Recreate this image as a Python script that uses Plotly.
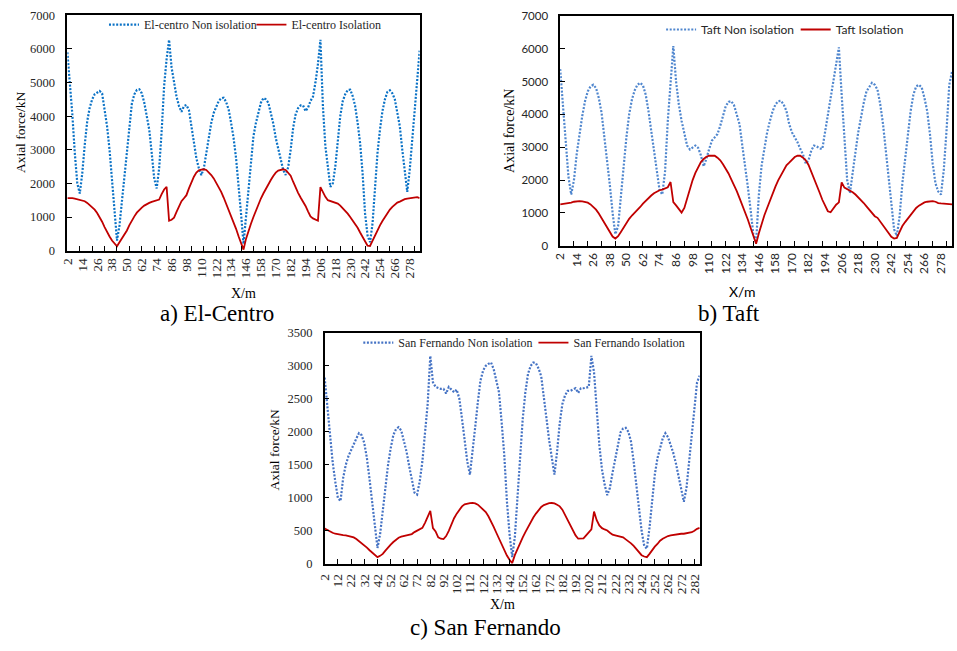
import plotly.graph_objects as go

# ---------------- data ----------------
# Position along the structure (m): categories 2, 4, ..., 286
X = list(range(2, 288, 2))

# a) El-Centro
ELC_NON = [5900, 5000, 4050, 2900, 2000, 1700, 2300, 3150, 3850, 4250,
           4500, 4650, 4700, 4750, 4680, 4250, 3700, 3000, 2100, 1150,
           300, 750, 1500, 2350, 3100, 3750, 4380, 4650, 4780, 4800,
           4680, 4400, 4050, 3600, 2900, 2150, 1850, 2450, 3550, 4900,
           5700, 6270, 5450, 5000, 4580, 4300, 4130, 4300, 4330, 4180,
           3700, 3100, 2750, 2450, 2250, 2450, 2900, 3400, 3800, 4100,
           4300, 4450, 4530, 4550, 4420, 4200, 3800, 3350, 2750, 2000,
           1100, 200, 1000, 1850, 2750, 3400, 3800, 4150, 4400, 4540,
           4500, 4400, 4100, 3780, 3350, 3000, 2700, 2400, 2250, 2480,
           3000, 3650, 4050, 4240, 4320, 4320, 4150, 4250, 4450, 4580,
           5000, 5550, 6270, 4300, 3100, 2400, 1900, 2000, 2500, 3250,
           4000, 4450, 4650, 4780, 4790, 4600, 4300, 3800, 3200, 2300,
           1100, 450, 250, 800, 2000, 2900, 3600, 4150, 4500, 4720,
           4770, 4680, 4500, 4150, 3700, 3000, 2300, 1750, 2400, 3300,
           4350, 5300, 5950]
ELC_ISO = [1560, 1570, 1560, 1550, 1530, 1520, 1500, 1470, 1420, 1360,
           1300, 1220, 1120, 1000, 860, 700, 550, 420, 300, 200,
           130, 250, 360, 480, 600, 760, 900, 1020, 1130, 1220,
           1280, 1340, 1390, 1420, 1450, 1470, 1480, 1520, 1680, 1820,
           1900, 890, 920, 980, 1150, 1320, 1470, 1560, 1650, 1850,
           2050, 2200, 2320, 2390, 2410, 2420, 2400, 2330, 2250, 2150,
           2030, 1910, 1750, 1580, 1400, 1200, 1000, 830, 650, 430,
           200, 30, 350, 600, 800, 1000, 1200, 1370, 1550, 1700,
           1850, 1980, 2100, 2220, 2320, 2380, 2410, 2420, 2400, 2320,
           2230, 2050, 1870, 1720, 1580, 1460, 1330, 1170, 1020, 960,
           920, 890, 1890, 1730, 1600, 1500, 1480, 1460, 1440, 1400,
           1340, 1270, 1200, 1100, 1000, 900, 800, 680, 540, 400,
           270, 150, 140, 300, 450, 600, 750, 880, 1000, 1120,
           1220, 1300, 1370, 1430, 1460, 1500, 1530, 1550, 1560, 1570,
           1580, 1590, 1560]

# b) Taft
TAFT_NON = [5380, 4300, 3100, 2100, 1560, 2000, 2800, 3400, 3950, 4400,
            4700, 4850, 4900, 4800, 4500, 4050, 3350, 2700, 1850, 1000,
            350, 600, 1400, 2400, 3300, 4000, 4450, 4730, 4900, 4960,
            4880, 4600, 4100, 3500, 2900, 2250, 1700, 1560, 2250, 3800,
            5100, 6080, 5000, 4300, 3800, 3400, 3050, 2930, 3000, 3050,
            2980, 2750, 2420, 2650, 2950, 3200, 3300, 3400, 3650, 3950,
            4250, 4380, 4400, 4280, 4000, 3700, 3050, 2500, 1800, 1100,
            350, 100, 1550, 2450, 3000, 3450, 3800, 4100, 4300, 4400,
            4410, 4300, 4100, 3700, 3450, 3320, 3150, 2950, 2780, 2500,
            2600, 2900, 3050, 3020, 2960, 2950, 3450, 4000, 4500, 5050,
            5550, 6040, 4600, 3100, 2000, 1600, 2300, 2850, 3450, 3950,
            4350, 4700, 4850, 4960, 4900, 4750, 4300, 3700, 2900, 2100,
            1300, 500, 300, 900, 1900, 2700, 3500, 4100, 4600, 4850,
            4900, 4820, 4500, 4100, 3400, 2500, 1900, 1650, 1560, 2300,
            3500, 4900, 5300]
TAFT_ISO = [1260, 1270, 1280, 1290, 1310, 1340, 1355, 1360, 1350, 1330,
            1310, 1260, 1190, 1100, 980, 840, 700, 550, 410, 280,
            220, 290, 420, 560, 700, 820, 920, 1000, 1080, 1180,
            1280, 1370, 1450, 1530, 1600, 1650, 1690, 1710, 1740, 1780,
            1940, 1330, 1230, 1100, 1010, 1150, 1450, 1720, 2000, 2220,
            2400, 2550, 2640, 2710, 2740, 2750, 2740, 2680, 2600, 2480,
            2350, 2200, 2020, 1850, 1660, 1450, 1250, 1050, 800, 550,
            300, 60, 380, 680, 930, 1150, 1380, 1600, 1800, 1990,
            2160, 2320, 2450, 2530, 2630, 2700, 2740, 2740, 2680, 2600,
            2460, 2260, 2050, 1850, 1620, 1400, 1200, 1050, 1020, 1150,
            1250, 1320, 1930, 1770, 1730, 1680, 1630, 1560, 1480, 1400,
            1300, 1200, 1100, 980, 900, 850, 740, 620, 500, 380,
            270, 220, 240, 420, 600, 720, 830, 950, 1060, 1150,
            1220, 1280, 1320, 1340, 1350, 1360, 1340, 1300, 1290, 1280,
            1270, 1260, 1260]

# c) San Fernando
SF_NON = [2820, 2400, 1950, 1550, 1250, 1000, 950, 1300, 1500, 1630,
          1720, 1820, 1900, 1980, 1950, 1830, 1600, 1280, 900, 550,
          240, 450, 820, 1200, 1500, 1750, 1950, 2040, 2070, 2020,
          1880, 1700, 1480, 1250, 1080, 1050, 1250, 1550, 2000, 2420,
          3150, 2750, 2680, 2660, 2650, 2650, 2580, 2680, 2640, 2600,
          2640, 2500, 2200, 1900, 1550, 1350, 1680, 2070, 2450, 2780,
          2930, 3000, 3030, 3050, 2950, 2750, 2600, 2150, 1650, 950,
          450, 100, 400, 1000, 1650, 2200, 2600, 2880, 3000, 3050,
          3040, 2960, 2840, 2550, 2200, 1870, 1640, 1350, 1700, 2130,
          2420, 2550, 2620, 2620, 2640, 2660, 2590, 2660, 2660, 2670,
          2680, 3150, 2900, 2350, 1800, 1430, 1200, 1040, 1150, 1380,
          1600, 1820, 1990, 2050, 2060, 2000, 1850, 1550, 1200, 850,
          500, 270, 230, 550, 1000, 1350, 1600, 1770, 1900, 1980,
          1920, 1800, 1680, 1520, 1330, 1100, 940, 1150, 1550, 2000,
          2300, 2750, 2850]
SF_ISO = [535, 510, 490, 470, 455, 445, 438, 435, 430, 422,
          415, 400, 375, 345, 315, 280, 245, 205, 165, 125,
          100, 120, 150, 200, 250, 290, 330, 370, 395, 410,
          420, 430, 435, 450, 480, 500, 520, 545, 620, 720,
          800, 540, 490, 400, 380, 375, 420, 500, 600, 690,
          760, 825, 870, 900, 915, 920, 922, 915, 895, 860,
          820, 785, 720, 650, 560, 470, 380, 290, 200, 125,
          60, 10, 130, 230, 320, 400, 480, 560, 630, 700,
          760, 815, 860, 890, 910, 918, 921, 915, 895, 870,
          820, 745, 660, 580, 500, 430, 380, 380, 385, 430,
          480, 520, 790, 660, 580, 540, 520, 505, 470, 440,
          430, 420, 412, 400, 370, 345, 310, 270, 220, 170,
          130, 110, 100, 150, 210, 260, 300, 350, 380, 405,
          420, 430, 438, 445, 450, 455, 455, 460, 468, 478,
          500, 530, 545]

# tick marks / labels
AB_TICKS = list(range(2, 283, 10))      # tick marks every 10 m
AB_LABELS = list(range(2, 279, 12))     # labels every 12 m
C_TICKS = list(range(2, 283, 10))       # ticks + labels every 10 m

NAMES = {
    "elc_non": "El-centro Non isolation", "elc_iso": "El-centro Isolation",
    "taft_non": "Taft Non isolation", "taft_iso": "Taft Isolation",
    "sf_non": "San Fernando Non isolation", "sf_iso": "San Fernando Isolation",
}

# ---------------- styling ----------------
W, H = 957, 651
def fx(p): return p / W
def fy(p): return 1 - p / H

SERIF = "Liberation Serif, Times New Roman, serif"
SANS = "Lato, Carlito, Calibri, sans-serif"
TXT = "#262626"
RED = "#C00000"
BLUE_A = "#0A72C6"
BLUE_B = "#4F86CE"
BLUE_C = "#4472C4"
DOT = "2px,1.6px"

fig = go.Figure()
fig.add_trace(go.Scatter(x=X, y=ELC_NON, xaxis="x", yaxis="y", mode="lines",
                         name=NAMES["elc_non"], legend="legend",
                         line=dict(color=BLUE_A, width=2.2, dash=DOT)))
fig.add_trace(go.Scatter(x=X, y=ELC_ISO, xaxis="x4", yaxis="y", mode="lines",
                         name=NAMES["elc_iso"], legend="legend2",
                         line=dict(color=RED, width=1.8)))
fig.add_trace(go.Scatter(x=X, y=TAFT_NON, xaxis="x2", yaxis="y2", mode="lines",
                         name=NAMES["taft_non"], legend="legend3",
                         line=dict(color=BLUE_B, width=2.2, dash=DOT)))
fig.add_trace(go.Scatter(x=X, y=TAFT_ISO, xaxis="x5", yaxis="y2", mode="lines",
                         name=NAMES["taft_iso"], legend="legend4",
                         line=dict(color=RED, width=1.8)))
fig.add_trace(go.Scatter(x=X, y=SF_NON, xaxis="x3", yaxis="y3", mode="lines",
                         name=NAMES["sf_non"], legend="legend5",
                         line=dict(color=BLUE_C, width=2.2, dash=DOT)))
fig.add_trace(go.Scatter(x=X, y=SF_ISO, xaxis="x3", yaxis="y3", mode="lines",
                         name=NAMES["sf_iso"], legend="legend6",
                         line=dict(color=RED, width=1.8)))

def frame_x(domain, anchor, tickvals, labels, font):
    d = dict(domain=domain, anchor=anchor, range=[2, 286], tickmode="array",
             tickvals=tickvals, ticks="inside", ticklen=5, tickwidth=1, tickcolor="black",
             showline=True, linecolor="black", linewidth=1.5, mirror=True,
             showgrid=False, zeroline=False, fixedrange=True)
    if labels:
        d.update(showticklabels=True, ticktext=[str(v) for v in tickvals], tickangle=-90,
                 tickfont=font, ticklabelstandoff=3)
    else:
        d.update(showticklabels=False)
    return d

def label_x(over, anchor, tickvals, font):
    return dict(overlaying=over, anchor=anchor, side="bottom", range=[2, 286],
                tickmode="array", tickvals=tickvals, ticktext=[str(v) for v in tickvals],
                tickangle=-90, ticks="", showline=False, showgrid=False, zeroline=False,
                tickfont=font, ticklabelstandoff=4, fixedrange=True)

def frame_y(domain, anchor, top, dtick, font):
    return dict(domain=domain, anchor=anchor, range=[0, top], tickmode="linear", tick0=0,
                dtick=dtick, ticks="inside", ticklen=5, tickwidth=1, tickcolor="black",
                showline=True, linecolor="black", linewidth=1.5, mirror=True,
                showgrid=False, zeroline=False, tickfont=font, ticklabelstandoff=8,
                fixedrange=True)

fA_y = dict(family=SERIF, size=12.5, color=TXT)
fA_x = dict(family=SERIF, size=13.5, color=TXT)
fB_y = dict(family=SANS, size=11.5, color=TXT)
fB_x = dict(family=SANS, size=12, color=TXT)

layout = dict(
    width=W, height=H, margin=dict(l=0, r=0, t=0, b=0),
    paper_bgcolor="white", plot_bgcolor="white", showlegend=True,
    xaxis=frame_x([fx(60), fx(416)], "y", AB_TICKS, False, fA_x),
    xaxis4=label_x("x", "y", AB_LABELS, fA_x),
    yaxis=frame_y([fy(249), fy(8.5)], "x", 7000, 1000, fA_y),
    xaxis2=frame_x([fx(558), fx(954)], "y2", AB_TICKS, False, fB_x),
    xaxis5=label_x("x2", "y2", AB_LABELS, fB_x),
    yaxis2=frame_y([fy(244), fy(9)], "x2", 7000, 1000, fB_y),
    xaxis3=frame_x([fx(320), fx(699)], "y3", C_TICKS, True, fA_x),
    yaxis3=frame_y([fy(569), fy(333)], "x3", 3500, 500, fA_y),
)

def leg(text_x, yc, font):
    # legend text begins 40 px after the legend's left edge
    return dict(x=fx(text_x - 40), y=fy(yc), xanchor="left", yanchor="middle",
                bgcolor="rgba(0,0,0,0)", borderwidth=0, font=font, itemwidth=30,
                tracegroupgap=0)

fl_serif = dict(family=SERIF, size=12, color=TXT)
fl_sans = dict(family=SANS, size=12, color=TXT)
layout["legend"] = leg(137, 18, fl_serif)
layout["legend2"] = leg(286, 18, fl_serif)
layout["legend3"] = leg(700, 23, fl_sans)
layout["legend4"] = leg(836, 23, fl_sans)
layout["legend5"] = leg(394, 343, fl_serif)
layout["legend6"] = leg(571, 343, fl_serif)

fig.update_layout(**layout)

def ann(text, x, y, size, family=SERIF, angle=0):
    fig.add_annotation(text=text, x=fx(x), y=fy(y), xref="paper", yref="paper",
                       showarrow=False, xanchor="center", yanchor="middle",
                       textangle=angle, font=dict(family=family, size=size, color="black"))

# axis titles
ann("Axial force/kN", 12, 128, 13.5, angle=-90)
ann("Axial force/kN", 507, 127, 14, angle=-90)
ann("Axial force/kN", 269, 452, 13.5, angle=-90)
ann("X/m", 238, 293, 14)
ann("X/m", 742, 291, 14, family=SANS)
ann("X/m", 500, 611, 14)
# panel captions
ann("a) El-Centro", 211, 313, 23)
ann("b) Taft", 729, 313, 23)
ann("c) San Fernando", 483, 634, 23)

fig.write_html("out.html")
